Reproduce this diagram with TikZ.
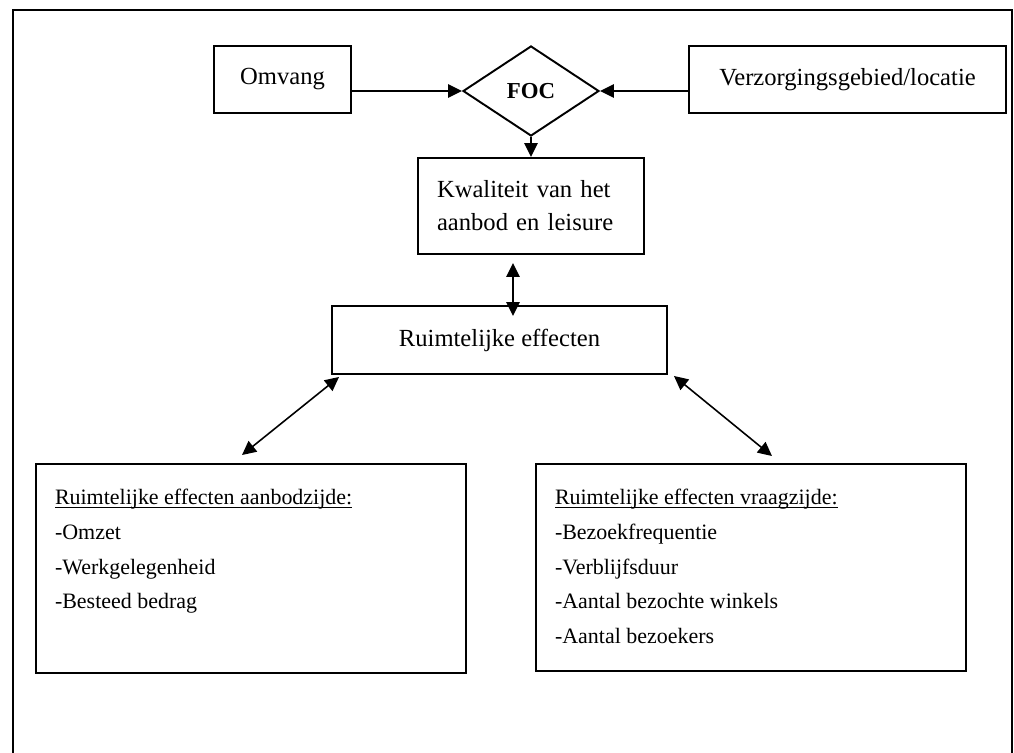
\documentclass[tikz,border=0pt]{standalone}
\usepackage{fontspec}
\setmainfont{Liberation Serif}
\usetikzlibrary{arrows.meta,shapes.geometric}
\newcommand\ulhead[1]{\leavevmode\setbox0\hbox{#1}\rlap{\rule[-2.2pt]{\wd0}{0.7pt}}\box0}

\begin{document}
\begin{tikzpicture}[line width=0.9pt,>={Triangle[length=2.8mm,width=2.7mm]},
  font=\fontsize{14}{19.8}\selectfont,
  box/.style={draw,line width=1.1pt,inner sep=0pt},
  listbox/.style={draw,line width=1.1pt,inner xsep=0.38cm,inner ysep=0.5cm,
    font=\fontsize{12.5}{19.8}\selectfont},
  dbl/.style={<->}]
\useasboundingbox (0,0) rectangle (20.28,15.06);
% outer frame, open at the bottom
\draw[line width=1.5pt] (0.26,0) -- (0.26,14.86) -- (20.24,14.86) -- (20.24,0);
% top row
\node[box,minimum width=2.74cm,minimum height=1.34cm] (omvang) at (5.65,13.47) {Omvang};
\node[box,diamond,minimum width=2.72cm,minimum height=1.8cm,
  font=\fontsize{13}{16}\selectfont\bfseries] (foc) at (10.62,13.24) {FOC};
\node[box,minimum width=6.34cm,minimum height=1.34cm] (verz) at (16.95,13.47) {Verzorgingsgebied/locatie};
% middle boxes
\node[box,minimum width=4.52cm,minimum height=1.92cm,text width=3.76cm,align=left,
  font=\fontsize{14}{18.7}\selectfont] (kwal) at (10.62,10.94) {Kwaliteit van het\\aanbod en leisure};
\node[box,minimum width=6.7cm,minimum height=1.36cm] (ruim) at (9.99,8.26) {Ruimtelijke effecten};
% bottom boxes
\node[listbox] (aanbod) at (5.02,3.69) {\parbox[c][3.18cm][t]{7.84cm}{%
  \ulhead{Ruimtelijke effecten aanbodzijde:}\\
  -Omzet\\
  -Werkgelegenheid\\
  -Besteed bedrag}};
\node[listbox] (vraag) at (15.02,3.71) {\parbox[c][3.14cm][t]{7.84cm}{%
  \ulhead{Ruimtelijke effecten vraagzijde:}\\
  -Bezoekfrequentie\\
  -Verblijfsduur\\
  -Aantal bezochte winkels\\
  -Aantal bezoekers}};
% connectors
\draw[->] (omvang.east |- foc.west) -- (foc.west);
\draw[->] (verz.west |- foc.east) -- (foc.east);
\draw[->] (foc.south) -- (kwal.north);
\draw[dbl,shorten <=1.6mm,shorten >=-2.2mm] ([xshift=-3.6mm]kwal.south) -- ([xshift=-3.6mm]kwal.south |- ruim.north);
\draw[dbl] ([xshift=1.6mm,yshift=-0.4mm]ruim.south west) -- ([xshift=-1.8mm,yshift=1.6mm]aanbod.north);
\draw[dbl] ([xshift=1.2mm,yshift=-0.2mm]ruim.south east) -- ([xshift=4.2mm,yshift=1.4mm]vraag.north);
\end{tikzpicture}
\end{document}
